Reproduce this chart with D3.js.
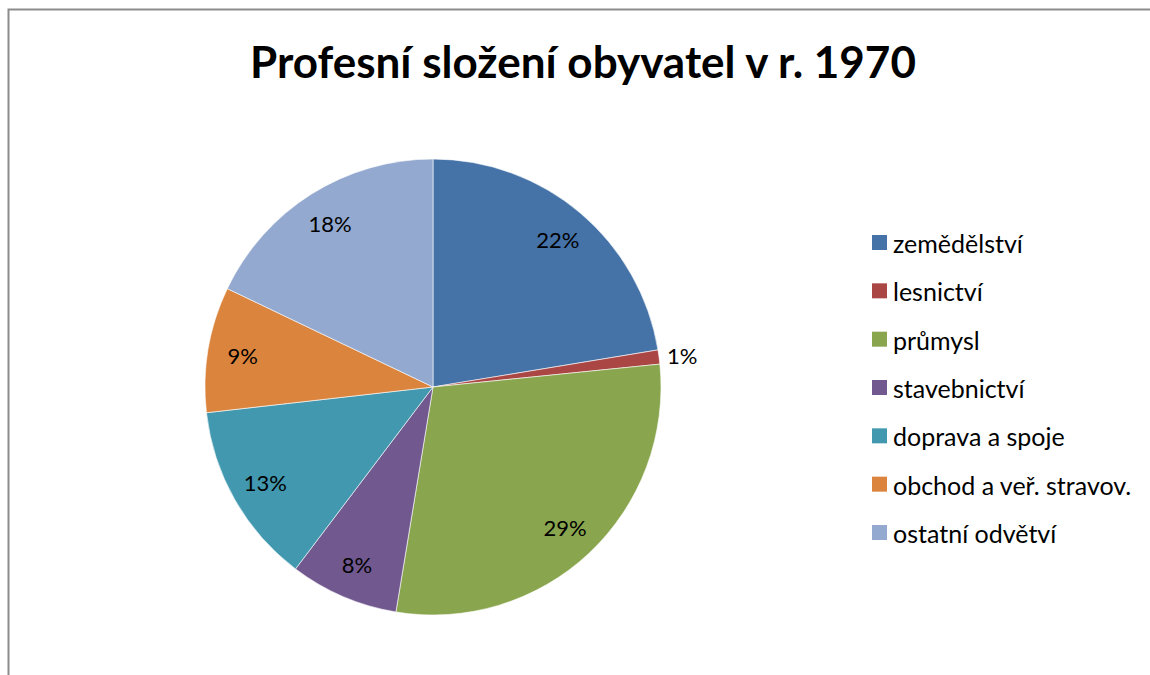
<!DOCTYPE html>
<html>
<head>
<meta charset="utf-8">
<script src="https://cdn.jsdelivr.net/npm/d3@7"></script>
<style>
  body { margin: 0; background: #fff; }
  svg { display: block; font-family: Lato, "Noto Sans", sans-serif; }
</style>
</head>
<body>
<div id="container"></div>
<script>
/* DATA */
const categories = ["zemědělství", "lesnictví", "průmysl", "stavebnictví",
  "doprava a spoje", "obchod a veř. stravov.", "ostatní odvětví"];
const shares = [22.4, 1.0, 29.2, 7.7, 12.9, 8.9, 17.9];
const colors = ["#4572A7", "#AA4643", "#89A54E", "#71588F", "#4198AF", "#DB843D", "#93A9CF"];
const title = "Profesní složení obyvatel v r. 1970";

/* LAYOUT */
const width = 1150, height = 675;
const cx = 433, cy = 387, radius = 228;

const data = categories.map((c, i) => ({ name: c, value: shares[i], color: colors[i] }));
const total = d3.sum(shares);

const svg = d3.select("#container")
  .append("svg")
  .attr("width", width)
  .attr("height", height);

// chart area frame (cut off at right and bottom)
svg.append("path")
  .attr("d", `M8.5,${height + 2} L8.5,9.5 L${width + 2},9.5`)
  .attr("fill", "none")
  .attr("stroke", "#8c8c8c")
  .attr("stroke-width", 2);

// title
svg.append("text")
  .attr("x", 583)
  .attr("y", 78)
  .attr("text-anchor", "middle")
  .attr("font-size", 44)
  .attr("font-weight", "bold")
  .attr("fill", "#000")
  .text(title);

// pie
const pie = d3.pie().sort(null).value(d => d.value);
const arc = d3.arc().innerRadius(0).outerRadius(radius);
const labelArc = d3.arc().innerRadius(193).outerRadius(193);
const outerArc = d3.arc().innerRadius(236).outerRadius(236);

const g = svg.append("g").attr("transform", `translate(${cx},${cy})`);

const arcs = pie(data);

g.selectAll("path.slice")
  .data(arcs)
  .join("path")
  .attr("class", "slice")
  .attr("d", arc)
  .attr("fill", d => d.data.color)
  .attr("stroke", "#fff")
  .attr("stroke-width", 0.6);

const fmt = v => Math.round(v / total * 100) + "%";

g.selectAll("text.pct")
  .data(arcs)
  .join("text")
  .attr("class", "pct")
  .attr("font-size", 22)
  .attr("fill", "#000")
  .attr("dominant-baseline", "central")
  .attr("text-anchor", d => d.data.value < 2 ? "start" : "middle")
  .attr("transform", d => {
    const p = d.data.value < 2 ? outerArc.centroid(d) : labelArc.centroid(d);
    return `translate(${p[0]},${p[1]})`;
  })
  .text(d => fmt(d.data.value));

// legend
const legendY = d3.scalePoint()
  .domain(categories)
  .range([242, 532]);

const legend = svg.append("g");
const items = legend.selectAll("g")
  .data(data)
  .join("g")
  .attr("transform", d => `translate(872,${legendY(d.name)})`);

items.append("rect")
  .attr("x", 0)
  .attr("y", -7)
  .attr("width", 15)
  .attr("height", 15)
  .attr("fill", d => d.color);

items.append("text")
  .attr("x", 21)
  .attr("y", 1)
  .attr("dominant-baseline", "central")
  .attr("font-size", 25)
  .attr("fill", "#000")
  .text(d => d.name);
</script>
</body>
</html>
